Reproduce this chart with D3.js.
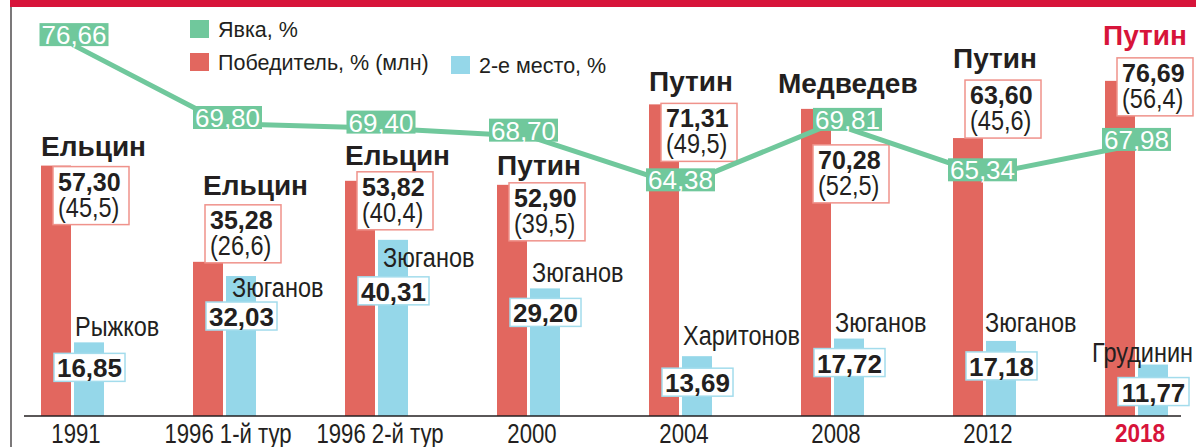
<!DOCTYPE html>
<html>
<head>
<meta charset="utf-8">
<script src="https://cdn.jsdelivr.net/npm/d3@7"></script>
<style>
  body { margin: 0; background: #fff; }
  svg { display: block; }
  text { font-family: "Liberation Sans", Arial, sans-serif; }
</style>
</head>
<body>
<script>
const width = 1196;
const height = 447;

// data
const years = ['1991', '1996 1-й тур', '1996 2-й тур', '2000', '2004', '2008', '2012', '2018'];
const turnout = [76.66, 69.80, 69.40, 68.70, 64.38, 69.81, 65.34, 67.98];
const winners = ['Ельцин', 'Ельцин', 'Ельцин', 'Путин', 'Путин', 'Медведев', 'Путин', 'Путин'];
const winnerPct = [57.30, 35.28, 53.82, 52.90, 71.31, 70.28, 63.60, 76.69];
const winnerVotes = [45.5, 26.6, 40.4, 39.5, 49.5, 52.5, 45.6, 56.4];
const runnersUp = ['Рыжков', 'Зюганов', 'Зюганов', 'Зюганов', 'Харитонов', 'Зюганов', 'Зюганов', 'Грудинин'];
const runnerPct = [16.85, 32.03, 40.31, 29.20, 13.69, 17.72, 17.18, 11.77];
const legendLabels = ['Явка, %', 'Победитель, % (млн)', '2-е место, %'];

// label placement nudges (px)
const winBoxDy = [1, -57, -9, -2, -1, 36, -58, -23];
const winNameDx = [0, 10, 0, 0, 0, -23, 0, -2];
const winNameDy = [-11, -10, -7, -8, -12, -52, -12, -13];
const runBoxDy = [11, 26, 37, 10, 12, 10, 11, 13];
const runNameDx = [1, 6, 5, 2, 1, 1, -1, -46];
const runNameDy = [-6, 21, 27, -6, -11, -7, -9, -3];
const turnDx = [1.5, 3, 4.5, -5, 0, 15, -2, 0];
const turnDy = [-10, -6, -6, -6, -6, -4, -5, -5];

const RED = '#e2675f';
const BLUE = '#95d7e9';
const GREEN = '#70c89c';
const ACCENT = '#d7143a';
const INK = '#231f20';

const ru = d3.formatLocale({decimal: ',', thousands: ' ', grouping: [3], currency: ['', '']});
const f2 = ru.format('.2f');
const f1 = ru.format('.1f');

// no condensed face installed: squeeze glyphs horizontally
function squeeze(sel, k) {
    sel.each(function() {
        const w = this.getComputedTextLength();
        d3.select(this)
          .attr('textLength', w * k)
          .attr('lengthAdjust', 'spacingAndGlyphs');
    });
}

const data = years.map((y, i) => ({
    year: y, i: i,
    turnout: turnout[i],
    winner: winners[i], winPct: winnerPct[i], winVotes: winnerVotes[i],
    runner: runnersUp[i], runPct: runnerPct[i]
}));

const svg = d3.select('body')
              .append('svg')
              .attr('width', width)
              .attr('height', height);

// top band + left rule
svg.append('rect')
   .attr('x', 10).attr('y', 0)
   .attr('width', width - 10).attr('height', 7)
   .attr('fill', ACCENT);
svg.append('line')
   .attr('x1', 11).attr('x2', 11)
   .attr('y1', 7).attr('y2', height)
   .attr('stroke', INK).attr('stroke-width', 1.2);

const xScale = d3.scalePoint()
                 .domain(years)
                 .range([72.5, 1136.5]);

const inner = d3.scaleBand()
                .domain(['win', 'run'])
                .range([-31.5, 31.5])
                .paddingInner(3 / 33);

const yScale = d3.scaleLinear()
                 .domain([0, 100])
                 .range([416, -21]);

const yTurn = d3.scaleLinear()
                .domain([64, 77])
                .range([190.2, 40.7]);

// bars
const groups = svg.selectAll('g.grp')
                  .data(data)
                  .enter()
                  .append('g')
                  .attr('class', 'grp')
                  .attr('transform', d => `translate(${xScale(d.year)}, 0)`);

groups.append('rect')
      .attr('x', inner('win'))
      .attr('width', inner.bandwidth())
      .attr('y', d => yScale(d.winPct))
      .attr('height', d => yScale(0) - yScale(d.winPct))
      .attr('fill', RED);

groups.append('rect')
      .attr('x', inner('run'))
      .attr('width', inner.bandwidth())
      .attr('y', d => yScale(d.runPct))
      .attr('height', d => yScale(0) - yScale(d.runPct))
      .attr('fill', BLUE);

// x axis
const last = years.length - 1;
const xAxis = d3.axisBottom(xScale).tickSize(0).tickPadding(8);
const ax = svg.append('g')
              .attr('transform', `translate(0, ${yScale(0)})`)
              .call(xAxis);
ax.select('.domain').remove();
ax.selectAll('text')
  .attr('dx', 3)
  .attr('font-family', null)
  .attr('fill', (d, i) => i === last ? ACCENT : INK)
  .attr('font-weight', (d, i) => i === last ? 'bold' : 'normal')
  .attr('font-size', (d, i) => i === last ? 25 : 27);
squeeze(ax.selectAll('text').filter((d, i) => i !== last), 0.82);
squeeze(ax.selectAll('text').filter((d, i) => i === last), 0.9);
svg.append('line')
   .attr('x1', xScale(years[0]) - 48.5)
   .attr('x2', xScale(years[last]) + 44.5)
   .attr('y1', yScale(0)).attr('y2', yScale(0))
   .attr('stroke', INK).attr('stroke-width', 1.5);

// turnout line
const line = d3.line()
               .x(d => xScale(d.year))
               .y(d => yTurn(d.turnout));
svg.append('path')
   .datum(data)
   .attr('d', line)
   .attr('fill', 'none')
   .attr('stroke', GREEN)
   .attr('stroke-width', 5)
   .attr('stroke-linejoin', 'round');

const tl = svg.selectAll('g.turn')
              .data(data)
              .enter()
              .append('g')
              .attr('class', 'turn')
              .attr('transform', d => `translate(${xScale(d.year) + turnDx[d.i]}, ${yTurn(d.turnout) + turnDy[d.i]})`);
tl.append('rect')
  .attr('x', -34.5).attr('y', -11.5)
  .attr('width', 69).attr('height', 23)
  .attr('fill', GREEN);
tl.append('text')
  .attr('text-anchor', 'middle')
  .attr('y', 9.5)
  .attr('font-size', 26)
  .attr('font-family', 'Roboto, "Liberation Sans", sans-serif')
  .attr('font-weight', 500)
  .attr('fill', '#fff')
  .text(d => f2(d.turnout));

// winner boxes
const wb = groups.append('g')
                 .attr('transform', d => `translate(${inner('win') + 12}, ${yScale(d.winPct) + winBoxDy[d.i]})`);
wb.append('rect')
  .attr('width', 76).attr('height', 58)
  .attr('fill', '#fff')
  .attr('stroke', '#ef928b')
  .attr('stroke-width', 1.5);
wb.append('text')
  .attr('x', 5).attr('y', 24)
  .attr('font-size', 25)
  .attr('font-weight', 'bold')
  .attr('fill', INK)
  .text(d => f2(d.winPct));
const votes = wb.append('text')
  .attr('x', 5).attr('y', 50)
  .attr('font-size', 27)
  .attr('fill', INK)
  .text(d => `(${f1(d.winVotes)})`);
squeeze(votes, 0.87);
wb.append('text')
  .attr('x', d => winNameDx[d.i] - 12)
  .attr('y', d => winNameDy[d.i])
  .attr('font-size', 28)
  .attr('font-weight', 'bold')
  .attr('fill', d => d.i === last ? ACCENT : INK)
  .text(d => d.winner);

// runner-up labels
const rn = groups.append('text')
      .attr('x', d => inner('run') + runNameDx[d.i])
      .attr('y', d => yScale(d.runPct) + runNameDy[d.i])
      .attr('font-size', 27)
      .attr('fill', INK)
      .text(d => d.runner);
squeeze(rn, 0.87);

const rb = groups.append('g')
                 .attr('transform', d => `translate(${inner('win') + 13}, ${yScale(d.runPct) + runBoxDy[d.i]})`);
rb.append('rect')
  .attr('width', 71).attr('height', 28)
  .attr('fill', '#fff')
  .attr('stroke', '#a3dcec')
  .attr('stroke-width', 1.5);
rb.append('text')
  .attr('x', 35.5).attr('y', 24)
  .attr('text-anchor', 'middle')
  .attr('font-size', 26)
  .attr('font-weight', 'bold')
  .attr('fill', INK)
  .text(d => f2(d.runPct));

// legend
const legendPos = [[190, 20], [190, 53], [451, 56]];
const legendColors = [GREEN, RED, BLUE];
const lg = svg.selectAll('g.lg')
              .data(legendLabels)
              .enter()
              .append('g')
              .attr('class', 'lg')
              .attr('transform', (d, i) => `translate(${legendPos[i][0]}, ${legendPos[i][1]})`);
lg.append('rect')
  .attr('width', 19).attr('height', 18)
  .attr('fill', (d, i) => legendColors[i]);
lg.append('text')
  .attr('x', 28).attr('y', 17)
  .attr('font-size', 21.5)
  .attr('fill', INK)
  .text(d => d);
</script>
</body>
</html>
